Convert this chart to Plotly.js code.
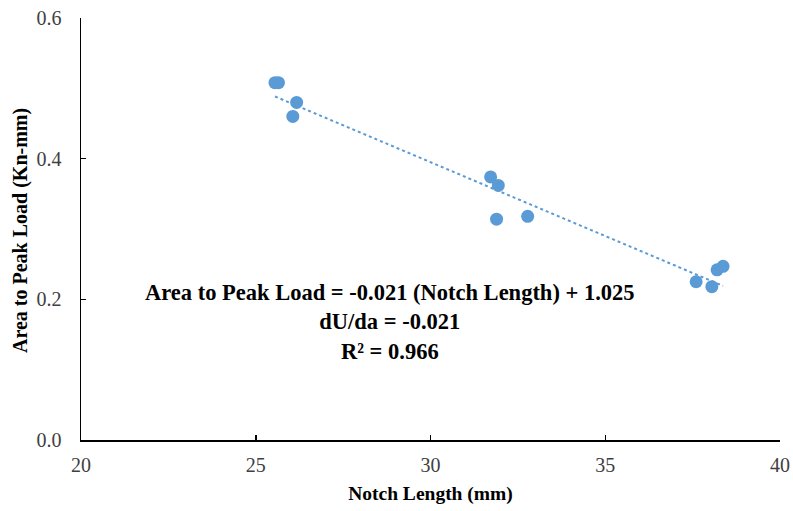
<!DOCTYPE html>
<html>
<head>
<meta charset="utf-8">
<script src="https://cdn.plot.ly/plotly-3.0.1.min.js"></script>
<style>
  html, body { margin: 0; padding: 0; background: #ffffff; }
  #chart { width: 793px; height: 511px; }
</style>
</head>
<body>
<div id="chart"></div>
<script>
// Notch length (mm) and area to peak load (kN-mm) per specimen
const notchLength = [25.55, 25.65, 26.17, 26.06, 31.72, 31.94, 31.89, 32.78, 37.60, 38.05, 38.20, 38.37];
const areaToPeak  = [0.508, 0.508, 0.480, 0.460, 0.374, 0.362, 0.314, 0.318, 0.225, 0.218, 0.242, 0.247];

// Linear fit reported for the series
const fitSlope = -0.021;
const fitIntercept = 1.025;
const fitR2 = 0.966;

const xTicks = [20, 25, 30, 35, 40];
const yTicks = [0.0, 0.2, 0.4, 0.6];

const xMin = Math.min(...notchLength);
const xMax = Math.max(...notchLength);
const fitX = [xMin, xMax];
const fitY = fitX.map(v => fitSlope * v + fitIntercept);

const blue = '#5B9BD5';
const serif = "'Liberation Serif', 'Times New Roman', serif";

const traces = [
  {
    x: fitX, y: fitY,
    type: 'scatter', mode: 'lines',
    line: { color: blue, width: 2, dash: 'dot' },
    hoverinfo: 'skip', showlegend: false
  },
  {
    x: notchLength, y: areaToPeak,
    type: 'scatter', mode: 'markers',
    marker: { color: blue, size: 13 },
    showlegend: false
  }
];

const layout = {
  width: 793, height: 511,
  margin: { l: 81, r: 13, t: 18, b: 71 },
  paper_bgcolor: '#ffffff',
  plot_bgcolor: '#ffffff',
  font: { family: serif, color: '#404040', size: 20 },
  xaxis: {
    range: [20, 40],
    tickvals: xTicks,
    ticktext: xTicks.map(String),
    showgrid: false, zeroline: false,
    showline: true, linecolor: '#000000', linewidth: 1.5,
    ticks: 'inside', ticklen: 5, tickwidth: 1.5, tickcolor: '#000000',
    tickfont: { family: serif, size: 20, color: '#404040' },
    ticklabelstandoff: 6,
    title: { text: '<b>Notch Length (mm)</b>', font: { family: serif, size: 19.5, color: '#000000' }, standoff: 12 }
  },
  yaxis: {
    range: [0, 0.6],
    tickvals: yTicks,
    ticktext: yTicks.map(v => v.toFixed(1)),
    showgrid: false, zeroline: false,
    showline: true, linecolor: '#000000', linewidth: 1.5,
    ticks: 'inside', ticklen: 5, tickwidth: 1.5, tickcolor: '#000000',
    tickfont: { family: serif, size: 20, color: '#404040' },
    ticklabelstandoff: 14
  },
  annotations: [
    {
      // vertical axis title
      x: -0.0873, y: 0.4976, xref: 'paper', yref: 'paper',
      xanchor: 'center', yanchor: 'middle', textangle: -90,
      showarrow: false,
      text: '<b>Area to Peak Load (Kn-mm)</b>',
      font: { family: serif, size: 20, color: '#000000' }
    },
    {
      x: 28.84, y: 0.168, xref: 'x', yref: 'y',
      showarrow: false, align: 'center',
      text: '<b>Area to Peak Load = ' + fitSlope.toFixed(3) + ' (Notch Length) + ' + fitIntercept.toFixed(3) +
            '<br>dU/da = ' + fitSlope.toFixed(3) +
            '<br>R² = ' + fitR2.toFixed(3) + '</b>',
      font: { family: serif, size: 22.5, color: '#000000' }
    }
  ]
};

Plotly.newPlot('chart', traces, layout, { displayModeBar: false, staticPlot: true });
</script>
</body>
</html>
